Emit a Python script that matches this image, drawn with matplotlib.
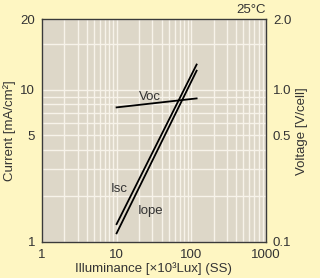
import matplotlib
matplotlib.use('Agg')
import matplotlib.pyplot as plt

plt.rcParams['font.family'] = ['Liberation Sans', 'DejaVu Sans']

# data
illum = [10, 118]              # x10^3 Lux
isc = [1.31, 14.6]             # mA/cm2
iope = [1.14, 13.3]            # mA/cm2
voc = [0.764, 0.875]           # V/cell

y_top = 28.9
left_ticks = [1, 5, 10, y_top]
left_labels = ['1', '5', '10', '20']
right_ticks = [0.1, 0.5, 1.0, y_top / 10]
right_labels = ['0.1', '0.5', '1.0', '2.0']
x_ticks = [1, 10, 100, 1000]
x_labels = ['1', '10', '100', '1000']

bg = '#fef6c2'
face = '#ddd7c8'
grid_c = '#f7f3ea'
txt = '#333333'
fs = 9.5

fig = plt.figure(figsize=(3.2, 2.78), dpi=100, facecolor=bg)
ax = fig.add_axes([0.131, 0.1295, 0.70, 0.801])
ax.set_facecolor(face)
ax.set_xscale('log')
ax.set_yscale('log')
ax.set_xlim(1, 1000)
ax.set_ylim(1, y_top)

ax.set_xticks(x_ticks, x_labels)
ax.set_xticks([m * d for d in (1, 10, 100) for m in range(2, 10)], minor=True)
ax.set_yticks(left_ticks, left_labels)
ax.set_yticks([2, 3, 4, 6, 7, 8, 9, 20], minor=True)
ax.xaxis.set_minor_formatter(plt.NullFormatter())
ax.yaxis.set_minor_formatter(plt.NullFormatter())
ax.grid(True, which='both', color=grid_c, lw=1.0)
ax.set_axisbelow(True)
ax.tick_params(which='both', length=0, labelsize=fs, colors=txt, pad=5)

for s in ax.spines.values():
    s.set_color('#3a3a3a')
    s.set_linewidth(1.0)

ax.plot(illum, isc, color='black', lw=1.3)
ax.plot(illum, iope, color='black', lw=1.3)

ax2 = ax.twinx()
ax2.set_yscale('log')
ax2.set_ylim(0.1, y_top / 10)
ax2.set_yticks(right_ticks, right_labels)
ax2.set_yticks([], minor=True)
ax2.tick_params(which='both', length=0, labelsize=fs, colors=txt, pad=5)
ax2.plot(illum, voc, color='black', lw=1.3)
for s in ax2.spines.values():
    s.set_visible(False)

ax.text(27.9, 8.97, 'Voc', fontsize=fs, color=txt, ha='center', va='center')
ax.text(10.8, 2.23, 'Isc', fontsize=fs, color=txt, ha='center', va='center')
ax.text(28.6, 1.60, 'Iope', fontsize=fs, color=txt, ha='center', va='center')
ax.text(1.0, 1.015, '25°C', transform=ax.transAxes, fontsize=fs,
        color=txt, ha='right', va='bottom')

ax.set_ylabel('Current [mA/cm²]', fontsize=fs, color=txt, labelpad=3)
ax2.set_ylabel('Voltage [V/cell]', fontsize=fs, color=txt, labelpad=3)
ax.set_xlabel('Illuminance [×10³Lux] (SS)', fontsize=fs, color=txt, labelpad=1)

fig.savefig('out.png', dpi=100, facecolor=bg)
